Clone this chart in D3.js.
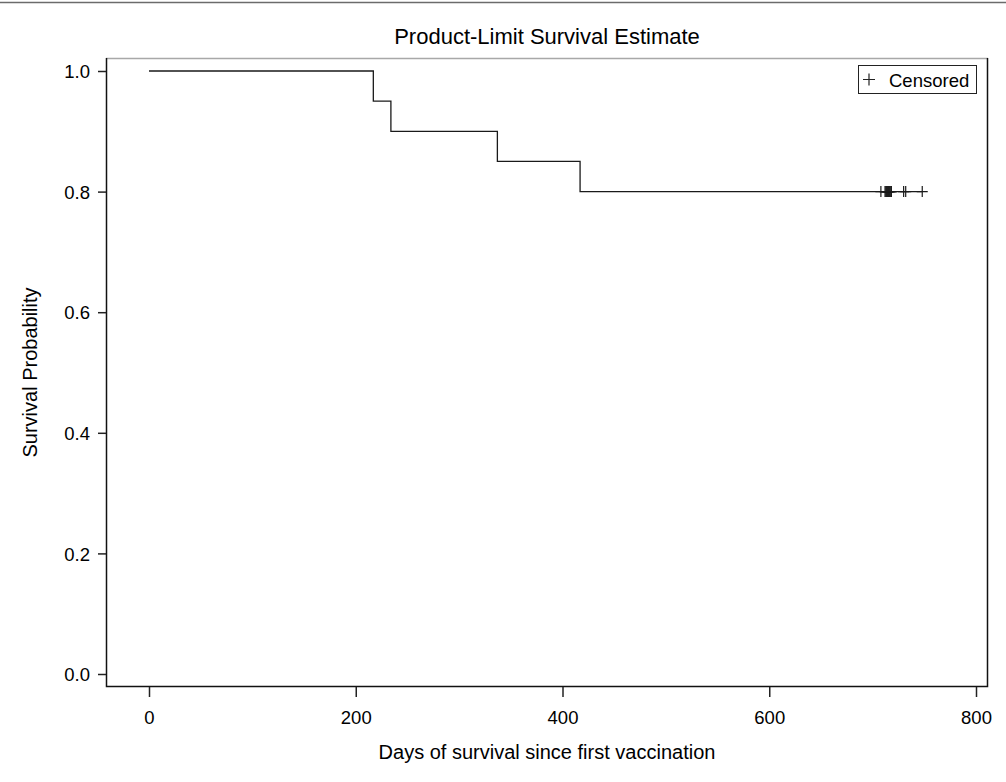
<!DOCTYPE html>
<html>
<head>
<meta charset="utf-8">
<script src="https://cdn.jsdelivr.net/npm/d3@7"></script>
<style>
    body { margin: 0; background: #fff; }
    text { font-family: "Liberation Sans", Arial, sans-serif; fill: #000; }
</style>
</head>
<body>
<div id="chart"></div>
<script>
// Kaplan-Meier step values
var stepTimes = [0, 217, 234, 337, 417];
var stepSurvival = [1.0, 0.95, 0.90, 0.85, 0.80];
var censorTimes = [708, 712, 713, 713, 714, 714, 715, 715, 716, 716, 717, 718, 718, 730, 732, 748];
var xTicks = [0, 200, 400, 600, 800];
var yTicks = [0.0, 0.2, 0.4, 0.6, 0.8, 1.0];

var width = 1006, height = 782;
var frame = {left: 106, right: 988, top: 58, bottom: 687};

var svg = d3.select("#chart").append("svg")
    .attr("width", width)
    .attr("height", height);

// thin rule at the very top of the page
svg.append("line")
    .attr("x1", 0).attr("x2", width)
    .attr("y1", 2.5).attr("y2", 2.5)
    .attr("stroke", "#6b6b6b")
    .attr("stroke-width", 1.5);

var xScale = d3.scaleLinear().domain([0, 800]).range([149, 976]);
var yScale = d3.scaleLinear().domain([0, 1]).range([674, 71]);

// frame
svg.append("line")
    .attr("x1", frame.left).attr("x2", frame.right)
    .attr("y1", frame.top + 0.5).attr("y2", frame.top + 0.5)
    .attr("stroke", "#a8a8a8").attr("stroke-width", 1.5);
svg.append("path")
    .attr("d", "M" + (frame.right - 0.5) + "," + frame.top + "V" + (frame.bottom - 0.5) +
        "H" + (frame.left + 0.5) + "V" + frame.top)
    .attr("fill", "none")
    .attr("stroke", "#111")
    .attr("stroke-width", 1.5);

// axes
var xAxis = svg.append("g")
    .attr("transform", "translate(0," + frame.bottom + ")")
    .call(d3.axisBottom(xScale).tickValues(xTicks).tickSize(10).tickPadding(14).tickFormat(d3.format("d")));
var yAxis = svg.append("g")
    .attr("transform", "translate(" + frame.left + ",0)")
    .call(d3.axisLeft(yScale).tickValues(yTicks).tickSize(8).tickPadding(8).tickFormat(d3.format(".1f")));

[xAxis, yAxis].forEach(function (g) {
    g.select(".domain").remove();
    g.selectAll(".tick line").attr("stroke", "#222").attr("stroke-width", 1.5);
    g.selectAll(".tick text")
        .attr("fill", "#000")
        .style("font-size", "18.5px")
        .style("font-family", "'Liberation Sans', Arial, sans-serif");
});
yAxis.selectAll(".tick text").attr("dy", "0.36em");

// step curve
var stepData = stepTimes.map(function (t, i) {
    return {t: t, s: stepSurvival[i]};
});
stepData.push({t: d3.max(censorTimes), s: stepSurvival[stepSurvival.length - 1]});

var stepLine = d3.line()
    .x(function (d) { return xScale(d.t); })
    .y(function (d) { return yScale(d.s); })
    .curve(d3.curveStepAfter);

svg.append("path")
    .datum(stepData)
    .attr("d", stepLine)
    .attr("fill", "none")
    .attr("stroke", "#1a1a1a")
    .attr("stroke-width", 1.3);

// censored marks
var lastSurv = stepSurvival[stepSurvival.length - 1];
var markSize = 5.5;
svg.selectAll(".censor")
    .data(censorTimes)
    .enter()
    .append("path")
    .attr("class", "censor")
    .attr("d", function (d) {
        var x = xScale(d), y = yScale(lastSurv);
        return "M" + (x - markSize) + "," + y + "H" + (x + markSize) +
            "M" + x + "," + (y - markSize) + "V" + (y + markSize);
    })
    .attr("fill", "none")
    .attr("stroke", "#1a1a1a")
    .attr("stroke-width", 1.2);

// legend
var legend = svg.append("g").attr("transform", "translate(858,65)");
legend.append("rect")
    .attr("x", 0.5).attr("y", 0.5)
    .attr("width", 118).attr("height", 28)
    .attr("fill", "#fff")
    .attr("stroke", "#222")
    .attr("stroke-width", 1);
legend.append("path")
    .attr("d", "M5," + 14.5 + "H17M11,8.5V20.5")
    .attr("stroke", "#222")
    .attr("stroke-width", 1.2);
legend.append("text")
    .attr("x", 31)
    .attr("y", 21.5)
    .style("font-size", "18.5px")
    .text("Censored");

// titles
svg.append("text")
    .attr("x", (frame.left + frame.right) / 2)
    .attr("y", 44)
    .attr("text-anchor", "middle")
    .style("font-size", "22px")
    .text("Product-Limit Survival Estimate");

svg.append("text")
    .attr("x", (frame.left + frame.right) / 2)
    .attr("y", 759)
    .attr("text-anchor", "middle")
    .style("font-size", "20px")
    .text("Days of survival since first vaccination");

svg.append("text")
    .attr("transform", "translate(37," + ((frame.top + frame.bottom) / 2) + ") rotate(-90)")
    .attr("text-anchor", "middle")
    .style("font-size", "20px")
    .text("Survival Probability");
</script>
</body>
</html>
